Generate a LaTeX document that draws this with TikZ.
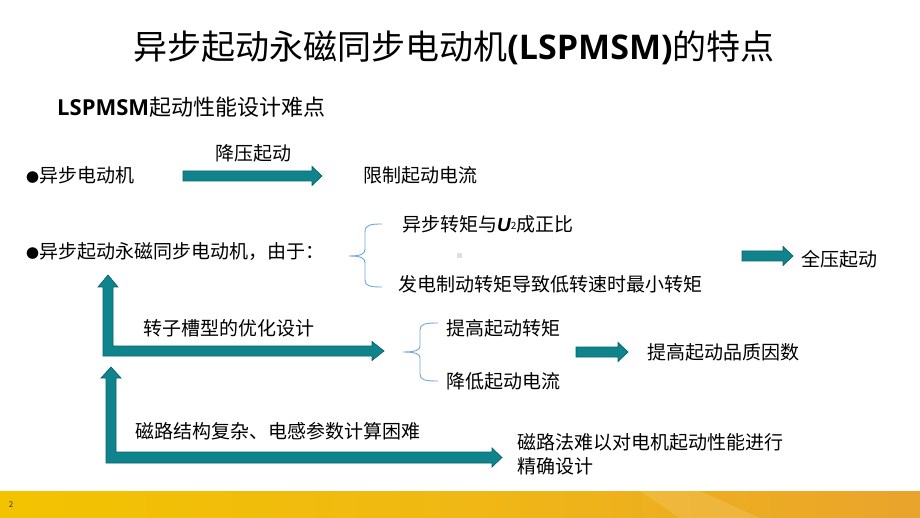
\documentclass[tikz,border=0pt]{standalone}
\usepackage{fontspec}
\setmainfont{Noto Sans CJK SC}
\newfontfamily\osans{Open Sans}
\newfontfamily\lsans{Liberation Sans}
\definecolor{teal1}{HTML}{0F848D}
\definecolor{teal2}{HTML}{0A636B}
\definecolor{brace}{HTML}{6FA8DC}
\definecolor{yel1}{HTML}{F3C300}
\definecolor{yel2}{HTML}{F0B814}
\definecolor{yel3}{HTML}{E9A42C}
\newcommand\bul{{\fontsize{13}{13}\selectfont ●}}
\tikzset{
  txt/.style={anchor=west,inner sep=0pt,font=\fontsize{19}{24}\selectfont,text=black},
  barrow/.style={fill=teal1,draw=teal2,line width=0.7pt,line join=miter},
  bracepath/.style={draw=brace,line width=0.9pt}
}
\newcommand\harr[3]{%
  \filldraw[barrow] ({#1},{#3-5}) -- ({#2-10},{#3-5}) -- ({#2-10},{#3-9.5}) -- ({#2},{#3}) -- ({#2-10},{#3+9.5}) -- ({#2-10},{#3+5}) -- ({#1},{#3+5}) -- cycle;}
\begin{document}
\begin{tikzpicture}[x=1pt,y=-1pt]
\useasboundingbox (0,0) rectangle (920,518);
\fill[white] (0,0) rectangle (920,518);
% footer band
\shade[left color=yel1,right color=yel3,middle color=yel2] (0,491) rectangle (920,518);
\fill[white,opacity=0.12] (640,491) -- (700,491) -- (760,518) -- (680,518) -- cycle;
\node[anchor=center,inner sep=0pt,font=\fontsize{8}{8}\selectfont,text=black!80] (pg) at (11,505) {2};
% title
\node[anchor=center,inner sep=0pt,font=\fontsize{34}{40}\selectfont] (title) at (454,48)
  {异步起动永磁同步电动机{\osans\bfseries (LSPMSM)}的特点};
\node[anchor=west,inner sep=0pt,font=\fontsize{22}{26}\selectfont] (sub) at (57,107)
  {{\osans\bfseries LSPMSM}起动性能设计难点};
% row 1
\node[txt] (t1) at (26,175) {\bul 异步电动机};
\node[txt,anchor=center] (jy) at (253,153) {降压起动};
\node[txt] (xz) at (363,175) {限制起动电流};
\harr{183}{322}{176}
% row 2
\node[txt] (t2) at (26,252) {\bul 异步起动永磁同步电动机，由于：};
\draw[bracepath] (382,224) .. controls (370,224) and (365,225) .. (365,232) -- (365,249)
  .. controls (365,254) and (361,256) .. (349,256)
  .. controls (361,256) and (365,258) .. (365,263) -- (365,280)
  .. controls (365,286) and (370,287) .. (382,287);
\node[txt] (a1) at (402,224) {异步转矩与{\lsans\bfseries\itshape U}\raisebox{0.15ex}{\fontsize{10}{10}\selectfont 2}成正比};
\node[txt] (a2) at (398,284) {发电制动转矩导致低转速时最小转矩};
\fill[gray!25] (456.5,253.5) rectangle (461.5,258.5);
\harr{742}{793}{256}
\node[txt] (qy) at (801,259) {全压起动};
% L arrow 1
\filldraw[barrow] (103,356) -- (103,287) -- (98,287) -- (108,275) -- (118,287) -- (113,287) -- (113,346)
  -- (372,346) -- (372,341.5) -- (384,351) -- (372,360.5) -- (372,356) -- cycle;
\node[txt] (zz) at (143,328) {转子槽型的优化设计};
\draw[bracepath] (438,323) .. controls (425,323) and (420,324) .. (420,330) -- (420,346)
  .. controls (420,350) and (416,352) .. (403,352)
  .. controls (416,352) and (420,354) .. (420,358) -- (420,374)
  .. controls (420,380) and (425,381) .. (438,381);
\node[txt] (b1) at (446,328) {提高起动转矩};
\node[txt] (b2) at (446,381) {降低起动电流};
\harr{576}{628}{352}
\node[txt] (c1) at (647,352) {提高起动品质因数};
% L arrow 2
\filldraw[barrow] (106,463) -- (106,378) -- (101,378) -- (111,367) -- (121,378) -- (116,378) -- (116,452)
  -- (492,452) -- (492,448) -- (502,457.5) -- (492,467) -- (492,463) -- cycle;
\node[txt] (d1) at (135,431) {磁路结构复杂、电感参数计算困难};
\node[txt,align=left] (e1) at (517,454) {磁路法难以对电机起动性能进行\\精确设计};
\end{tikzpicture}
\end{document}
